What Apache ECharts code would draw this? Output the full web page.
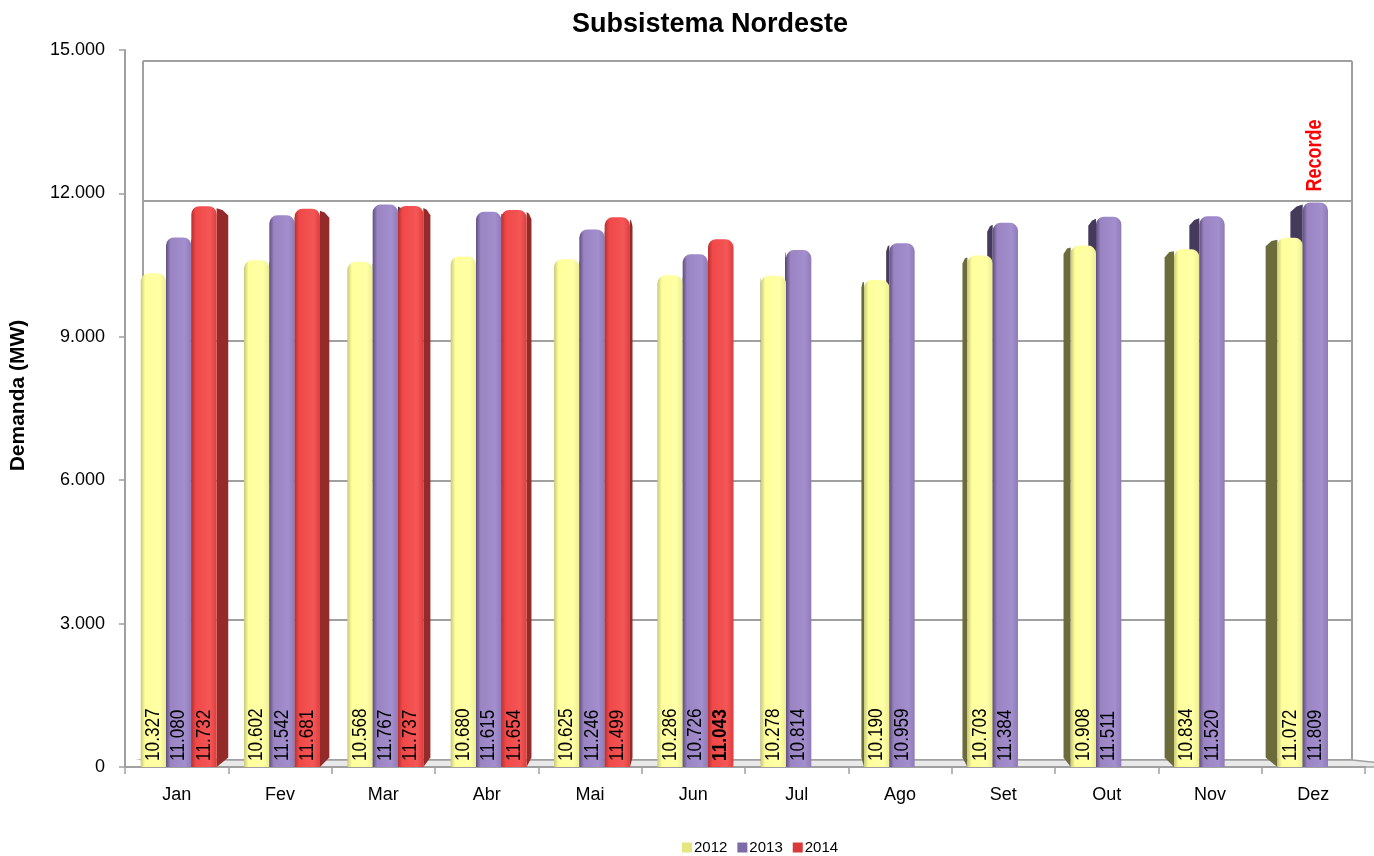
<!DOCTYPE html>
<html>
<head>
<meta charset="utf-8">
<title>Subsistema Nordeste</title>
<script src="https://cdn.jsdelivr.net/npm/echarts@6/dist/echarts.min.js"></script>
<style>
  html, body { margin: 0; padding: 0; background: #fff; }
  #demanda { width: 1374px; height: 856px; }
</style>
</head>
<body>
<div id="demanda"></div>
<script>
// dados (MW)
var meses = ['Jan', 'Fev', 'Mar', 'Abr', 'Mai', 'Jun', 'Jul', 'Ago', 'Set', 'Out', 'Nov', 'Dez'];
var anos = ['2012', '2013', '2014'];
var valores2012 = [10327, 10602, 10568, 10680, 10625, 10286, 10278, 10190, 10703, 10908, 10834, 11072];
var valores2013 = [11080, 11542, 11767, 11615, 11246, 10726, 10814, 10959, 11384, 11511, 11520, 11809];
var valores2014 = [11732, 11681, 11737, 11654, 11499, 11043, null, null, null, null, null, null];
var marcasY = [0, 3000, 6000, 9000, 12000, 15000];
var recorde = { ano: '2013', mes: 'Dez', texto: 'Recorde' };
var destaque = { ano: '2014', mes: 'Jun' };

var fonte = '"Liberation Sans", Arial, sans-serif';

// cores: face frontal (gradiente) e face lateral
var cores = [
  { frente: ['#c9c97a', '#ffff9c', '#ffffa6', '#ecec90'], lado: '#6b6b3c', legenda: '#e6e680' },
  { frente: ['#5f4e80', '#9a84c2', '#a38ece', '#8f7bb6'], lado: '#453a5c', legenda: '#7e6aa6' },
  { frente: ['#b83030', '#f04848', '#f45656', '#dd3d3d'], lado: '#952a2a', legenda: '#d83a3a' }
];

function milhar(v) {
  return String(v).replace(/\B(?=(\d{3})+(?!\d))/g, '.');
}

gerarGrafico();

function gerarGrafico() {
  var dom = document.getElementById('demanda');
  var myChart = echarts.init(dom, null, { renderer: 'canvas' });

  var todas = [valores2012, valores2013, valores2014];

  function montarSerie(s) {
    var dados = todas[s].map(function (v, i) {
      return [i, v == null ? '-' : v];
    });
    return {
      name: anos[s],
      type: 'custom',
      xAxisIndex: 0,
      yAxisIndex: 0,
      encode: { x: 0, y: 1 },
      data: dados,
      itemStyle: { color: cores[s].legenda },
      silent: true,
      renderItem: function (params, api) {
        var i = api.value(0);
        var v = api.value(1);
        if (isNaN(v)) return;
        var base = api.coord([i, 0]);
        var topo = api.coord([i, v]);
        var banda = api.size([1, 0])[0];
        var w = banda * 0.245;
        var x0 = base[0] - 1.5 * w + 2 + s * w;
        var x1 = x0 + w;
        var cx = (x0 + x1) / 2;
        var yTop = topo[1];
        var yBot = base[1];
        // ponto de fuga para a perspectiva
        var xv = (api.coord([0, 0])[0] + api.coord([meses.length - 1, 0])[0]) / 2;
        var yv = api.coord([0, 9000])[1];
        var k = 0.022;
        var aresta = cx < xv ? x1 : x0;
        var dx = (xv - aresta) * k;
        var r = 8;
        var filhos = [];
        filhos.push({
          type: 'polygon',
          z2: 1,
          shape: {
            points: [
              [aresta, yTop + 2],
              [aresta + dx * 0.5, yTop + (yv - yTop) * k + 1],
              [aresta + dx, yTop + (yv - yTop) * k + r * 0.8],
              [aresta + dx, yBot + (yv - yBot) * k],
              [aresta, yBot]
            ],
            smooth: 0
          },
          style: { fill: cores[s].lado }
        });
        var f = cores[s].frente;
        filhos.push({
          type: 'rect',
          z2: 2,
          shape: { x: x0, y: yTop, width: w, height: yBot - yTop, r: [r, r, 0, 0] },
          style: {
            fill: new echarts.graphic.LinearGradient(0, 0, 1, 0, [
              { offset: 0, color: f[0] },
              { offset: 0.18, color: f[1] },
              { offset: 0.75, color: f[2] },
              { offset: 1, color: f[3] }
            ])
          }
        });
        var negrito = anos[s] === destaque.ano && meses[i] === destaque.mes;
        filhos.push({
          type: 'text',
          z2: 3,
          x: cx,
          y: yBot - 6,
          rotation: Math.PI / 2,
          scaleX: 0.82,
          style: {
            text: milhar(v),
            fill: '#000',
            fontSize: 21,
            fontFamily: fonte,
            fontWeight: negrito ? 'bold' : 'normal',
            align: 'left',
            verticalAlign: 'middle'
          }
        });
        if (anos[s] === recorde.ano && meses[i] === recorde.mes) {
          filhos.push({
            type: 'text',
            z2: 3,
            x: cx,
            y: yTop - 11,
            rotation: Math.PI / 2,
            scaleX: 0.82,
            style: {
              text: recorde.texto,
              fill: '#ff0000',
              fontSize: 22,
              fontFamily: fonte,
              fontWeight: 'bold',
              align: 'left',
              verticalAlign: 'middle'
            }
          });
        }
        return { type: 'group', children: filhos };
      }
    };
  }

  var option = {
    animation: false,
    title: {
      text: 'Subsistema Nordeste',
      left: 705,
      textAlign: 'center',
      top: 6,
      textStyle: { fontSize: 27, fontWeight: 'bold', fontFamily: fonte, color: '#000' }
    },
    legend: {
      data: anos,
      left: 677,
      top: 835,
      icon: 'rect',
      itemWidth: 10,
      itemHeight: 10,
      itemGap: 10,
      textStyle: { fontSize: 15, fontFamily: fonte, color: '#000', padding: [0, 0, 0, -3] }
    },
    grid: [
      // plano frontal (eixos)
      { left: 124, right: 9, top: 50, bottom: 89 },
      // parede do fundo
      { left: 143, right: 22, top: 61, bottom: 96 }
    ],
    xAxis: [
      {
        type: 'category',
        gridIndex: 0,
        data: meses,
        axisLine: { lineStyle: { color: '#a0a0a0', width: 2 } },
        axisTick: { show: true, length: 7, lineStyle: { color: '#a0a0a0', width: 1.5 } },
        axisLabel: { color: '#000', fontSize: 18, fontFamily: fonte, margin: 19 },
        splitLine: { show: false }
      },
      {
        type: 'value',
        gridIndex: 1,
        min: 0,
        max: 1,
        interval: 1,
        axisLine: { show: false },
        axisTick: { show: false },
        axisLabel: { show: false },
        splitLine: { show: true, showMinLine: true, showMaxLine: true, lineStyle: { color: '#a0a0a0', width: 2 } }
      }
    ],
    yAxis: [
      {
        type: 'value',
        gridIndex: 0,
        min: marcasY[0],
        max: marcasY[marcasY.length - 1],
        interval: marcasY[1] - marcasY[0],
        name: 'Demanda (MW)',
        nameLocation: 'middle',
        nameGap: 96,
        nameTextStyle: { fontSize: 21, fontWeight: 'bold', fontFamily: fonte, color: '#000', padding: [0, 0, 0, 26] },
        axisLine: { show: true, lineStyle: { color: '#a0a0a0', width: 2 } },
        axisTick: { show: true, length: 6, lineStyle: { color: '#a0a0a0', width: 1.5 } },
        axisLabel: { color: '#000', fontSize: 18, fontFamily: fonte, margin: 20, formatter: milhar },
        splitLine: { show: false }
      },
      {
        type: 'value',
        gridIndex: 1,
        min: marcasY[0],
        max: marcasY[marcasY.length - 1],
        interval: marcasY[1] - marcasY[0],
        axisLine: { show: false },
        axisTick: { show: false },
        axisLabel: { show: false },
        splitLine: { show: true, lineStyle: { color: '#a0a0a0', width: 2 } }
      }
    ],
    series: [montarSerie(0), montarSerie(1), montarSerie(2)]
  };

  myChart.setOption(option);

  // piso em perspectiva entre o eixo frontal e a parede do fundo
  var fEsq = myChart.convertToPixel({ xAxisIndex: 0, yAxisIndex: 0 }, [-0.5, 0]);
  var fDir = myChart.convertToPixel({ xAxisIndex: 0, yAxisIndex: 0 }, [meses.length - 0.5, 0]);
  var tEsq = myChart.convertToPixel({ xAxisIndex: 1, yAxisIndex: 1 }, [0, 0]);
  var tDir = myChart.convertToPixel({ xAxisIndex: 1, yAxisIndex: 1 }, [1, 0]);
  if (fEsq && fDir && tEsq && tDir) {
    myChart.setOption({
      graphic: [{
        type: 'polygon',
        z: 0,
        silent: true,
        shape: { points: [fEsq, [fDir[0] + 3, fDir[1]], tDir, tEsq] },
        style: { fill: '#e9e9e9', stroke: '#a0a0a0', lineWidth: 1.5 }
      }]
    });
  }

  window.addEventListener('resize', myChart.resize);
}
</script>
</body>
</html>
